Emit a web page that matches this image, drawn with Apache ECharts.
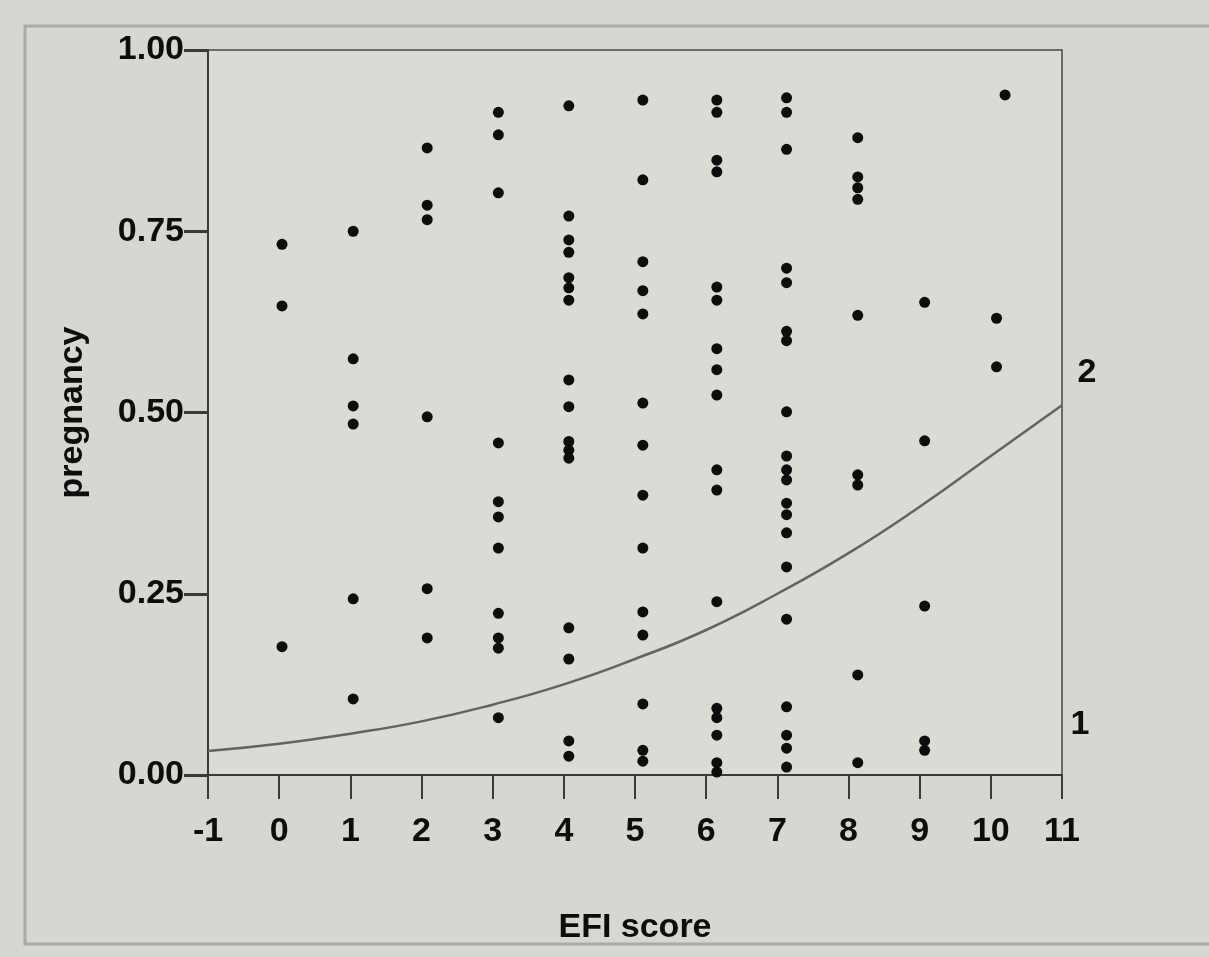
<!DOCTYPE html>
<html>
<head>
<meta charset="utf-8">
<script src="https://cdn.jsdelivr.net/npm/echarts@6/dist/echarts.min.js"></script>
<style>
  html, body { margin: 0; padding: 0; background: #d5d7d0; }
  #main { width: 1209px; height: 957px; }
</style>
</head>
<body>
<div id="main"></div>
<script>
// EFI score columns, x (dots sit slightly right of the ticks)
var scoreX = [0.04, 1.04, 2.08, 3.08, 4.07, 5.11, 6.15, 7.13, 8.13, 9.07, 10.08];

// pregnancy values per column
var col0 = [0.732, 0.647, 0.177];
var col1 = [0.750, 0.574, 0.509, 0.484, 0.243, 0.105];
var col2 = [0.865, 0.786, 0.766, 0.494, 0.257, 0.189];
var col3 = [0.914, 0.883, 0.803, 0.458, 0.377, 0.356, 0.313, 0.223, 0.189, 0.175, 0.079];
var col4 = [0.923, 0.771, 0.738, 0.721, 0.686, 0.672, 0.655, 0.545, 0.508, 0.460, 0.448, 0.437, 0.203, 0.160, 0.047, 0.026];
var col5 = [0.931, 0.821, 0.708, 0.668, 0.636, 0.513, 0.455, 0.386, 0.313, 0.225, 0.193, 0.098, 0.034, 0.019];
var col6 = [0.931, 0.914, 0.848, 0.832, 0.673, 0.655, 0.588, 0.559, 0.524, 0.421, 0.393, 0.239, 0.092, 0.079, 0.055, 0.017, 0.004];
var col7 = [0.934, 0.914, 0.863, 0.699, 0.679, 0.612, 0.599, 0.501, 0.440, 0.421, 0.407, 0.375, 0.359, 0.334, 0.287, 0.215, 0.094, 0.055, 0.037, 0.011];
var col8 = [0.879, 0.825, 0.810, 0.794, 0.634, 0.414, 0.400, 0.138, 0.017];
var col9 = [0.652, 0.461, 0.233, 0.047, 0.034];
var col10 = [0.630, 0.563];
var extraPoints = [[10.2, 0.938]];

// fitted curve, read at each integer score
var curveX = [-1, 0, 1, 2, 3, 4, 5, 6, 7, 8, 9, 10, 11];
var curveY = [0.033, 0.043, 0.057, 0.074, 0.097, 0.125, 0.160, 0.200, 0.250, 0.306, 0.370, 0.440, 0.510];

(function() {
    var myChart = echarts.init(document.getElementById('main'));

    var cols = [col0, col1, col2, col3, col4, col5, col6, col7, col8, col9, col10];
    var points = [];
    for (var i = 0; i < cols.length; i++) {
        for (var j = 0; j < cols[i].length; j++) {
            points.push([scoreX[i], cols[i][j]]);
        }
    }
    points = points.concat(extraPoints);

    var curve = [];
    for (var k = 0; k < curveX.length; k++) {
        curve.push([curveX[k], curveY[k]]);
    }

    var font = 'Liberation Sans';
    var ink = '#0d0d0d';

    option = {
        backgroundColor: '#d5d7d0',
        animation: false,
        grid: {
            left: 208,
            right: 147,
            top: 50,
            bottom: 182,
            show: true,
            backgroundColor: '#d9dbd4',
            borderColor: '#4a4a44',
            borderWidth: 1.5
        },
        xAxis: {
            type: 'value',
            min: -1,
            max: 11,
            interval: 1,
            name: 'EFI score',
            nameLocation: 'middle',
            nameGap: 136,
            nameTextStyle: { fontFamily: font, fontSize: 34, fontWeight: 'bold', color: ink },
            axisLine: { show: true, onZero: false, lineStyle: { color: '#3a3a36', width: 2 } },
            axisTick: { show: true, length: 24, lineStyle: { color: '#3a3a36', width: 2 } },
            axisLabel: { margin: 40, fontFamily: font, fontSize: 34, fontWeight: 'bold', color: ink },
            splitLine: { show: false }
        },
        yAxis: {
            type: 'value',
            min: 0,
            max: 1,
            interval: 0.25,
            name: 'pregnancy',
            nameLocation: 'middle',
            nameGap: 118,
            nameRotate: 90,
            nameTextStyle: { fontFamily: font, fontSize: 34, fontWeight: 'bold', color: ink },
            axisLine: { show: true, onZero: false, lineStyle: { color: '#3a3a36', width: 2 } },
            axisTick: { show: true, length: 24, lineStyle: { color: '#3a3a36', width: 3 } },
            axisLabel: {
                margin: 24,
                fontFamily: font,
                fontSize: 34,
                fontWeight: 'bold',
                color: ink,
                formatter: function(v) { return v.toFixed(2); }
            },
            splitLine: { show: false }
        },
        graphic: [
            {
                type: 'rect',
                shape: { x: 25, y: 26, width: 1200, height: 918 },
                style: { fill: 'none', stroke: '#a9aba4', lineWidth: 3 },
                z: -1
            },
            {
                type: 'text',
                x: 1087, y: 373,
                style: { text: '2', fontFamily: font, fontSize: 34, fontWeight: 'bold', fill: ink, align: 'center', verticalAlign: 'middle' }
            },
            {
                type: 'text',
                x: 1080, y: 725,
                style: { text: '1', fontFamily: font, fontSize: 34, fontWeight: 'bold', fill: ink, align: 'center', verticalAlign: 'middle' }
            }
        ],
        series: [
            {
                name: 'fit',
                type: 'line',
                data: curve,
                smooth: true,
                showSymbol: false,
                lineStyle: { color: '#64645c', width: 2.5 },
                z: 2
            },
            {
                name: 'pregnancy',
                type: 'scatter',
                data: points,
                symbolSize: 11,
                itemStyle: { color: ink, opacity: 1 },
                z: 3
            }
        ]
    };

    myChart.setOption(option);
})();
</script>
</body>
</html>
